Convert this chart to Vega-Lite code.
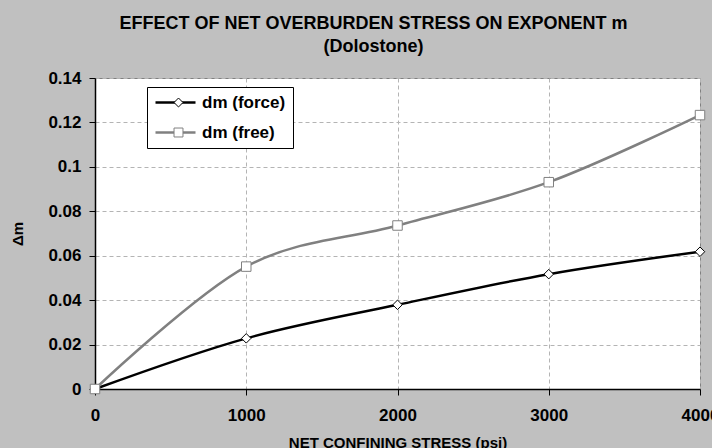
{
  "$schema": "https://vega.github.io/schema/vega-lite/v6.json",
  "autosize": {"type": "none"},
  "width": 605,
  "height": 311,
  "padding": {"left": 95, "top": 78, "right": 12, "bottom": 59},
  "background": "#c0c0c0",
  "title": {
    "text": ["EFFECT OF NET OVERBURDEN STRESS ON EXPONENT m", "(Dolostone)"],
    "font": "Liberation Sans",
    "fontSize": 18,
    "fontWeight": "bold",
    "color": "#000000",
    "anchor": "middle",
    "frame": "group",
    "dx": -24,
    "lineHeight": 23,
    "offset": 13
  },
  "config": {
    "view": {"fill": "#ffffff", "stroke": "#808080", "strokeWidth": 1},
    "axis": {
      "labelFont": "Liberation Sans",
      "labelFontSize": 17,
      "labelFontWeight": "bold",
      "labelColor": "#000000",
      "titleFont": "Liberation Sans",
      "titleFontSize": 15,
      "titleFontWeight": "bold",
      "titleColor": "#000000",
      "domainColor": "#000000",
      "domainWidth": 1.5,
      "tickColor": "#000000",
      "tickSize": 6,
      "tickWidth": 1,
      "gridColor": "#b4b4b4",
      "gridDash": [4, 3],
      "gridWidth": 1
    }
  },
  "data": {
    "values": [
      {"stress": 0, "dm": 0, "series": "dm (force)"},
      {"stress": 1000, "dm": 0.0228, "series": "dm (force)"},
      {"stress": 2000, "dm": 0.0379, "series": "dm (force)"},
      {"stress": 3000, "dm": 0.0517, "series": "dm (force)"},
      {"stress": 4000, "dm": 0.0618, "series": "dm (force)"},
      {"stress": 0, "dm": 0, "series": "dm (free)"},
      {"stress": 1000, "dm": 0.0551, "series": "dm (free)"},
      {"stress": 2000, "dm": 0.0736, "series": "dm (free)"},
      {"stress": 3000, "dm": 0.0931, "series": "dm (free)"},
      {"stress": 4000, "dm": 0.1233, "series": "dm (free)"}
    ]
  },
  "encoding": {
    "x": {
      "field": "stress",
      "type": "quantitative",
      "scale": {"domain": [0, 4000], "nice": false},
      "axis": {
        "title": "NET CONFINING STRESS (psi)",
        "values": [0, 1000, 2000, 3000, 4000],
        "format": "d",
        "labelFlush": false,
        "labelOverlap": false,
        "labelPadding": 12,
        "titleY": 53,
        "titleBaseline": "middle"
      }
    },
    "y": {
      "field": "dm",
      "type": "quantitative",
      "scale": {"domain": [0, 0.14], "nice": false},
      "axis": {
        "title": "Δm",
        "values": [0, 0.02, 0.04, 0.06, 0.08, 0.1, 0.12, 0.14],
        "format": "~g",
        "labelPadding": 8,
        "labelOverlap": false,
        "titleX": -78,
        "titleY": 155.5,
        "titleAngle": -90,
        "titleBaseline": "middle",
        "titleAlign": "center"
      }
    }
  },
  "layer": [
    {
      "mark": {"type": "line", "interpolate": "cardinal", "tension": 0, "strokeWidth": 2.5},
      "encoding": {
        "stroke": {
          "field": "series",
          "type": "nominal",
          "scale": {"domain": ["dm (force)", "dm (free)"], "range": ["#000000", "#808080"]},
          "legend": {
            "orient": "none",
            "legendX": 52,
            "legendY": 9,
            "title": null,
            "symbolType": "stroke",
            "symbolSize": 1600,
            "symbolStrokeWidth": 2.5,
            "clipHeight": 17,
            "padding": 7,
            "rowPadding": 12,
            "labelOffset": 5,
            "labelFont": "Liberation Sans",
            "labelFontSize": 17,
            "labelFontWeight": "bold",
            "labelColor": "#000000",
            "fillColor": "#ffffff",
            "strokeColor": "#000000"
          }
        }
      }
    },
    {
      "mark": {"type": "point", "filled": false, "fill": "#ffffff", "strokeWidth": 1, "size": 90, "opacity": 1},
      "encoding": {
        "stroke": {
          "field": "series",
          "type": "nominal",
          "scale": {"domain": ["dm (force)", "dm (free)"], "range": ["#000000", "#808080"]},
          "legend": null
        },
        "shape": {
          "field": "series",
          "type": "nominal",
          "scale": {"domain": ["dm (force)", "dm (free)"], "range": ["diamond", "square"]},
          "legend": {
            "orient": "none",
            "legendX": 68,
            "legendY": 9,
            "title": null,
            "symbolSize": 80,
            "symbolFillColor": "#ffffff",
            "symbolStrokeWidth": 1,
            "clipHeight": 17,
            "padding": 7,
            "rowPadding": 12,
            "labelExpr": "''",
            "labelOpacity": 0,
            "labelFontSize": 17,
            "fillColor": null,
            "strokeColor": null
          }
        }
      }
    }
  ],
  "resolve": {"legend": {"stroke": "independent", "shape": "independent"}}
}
